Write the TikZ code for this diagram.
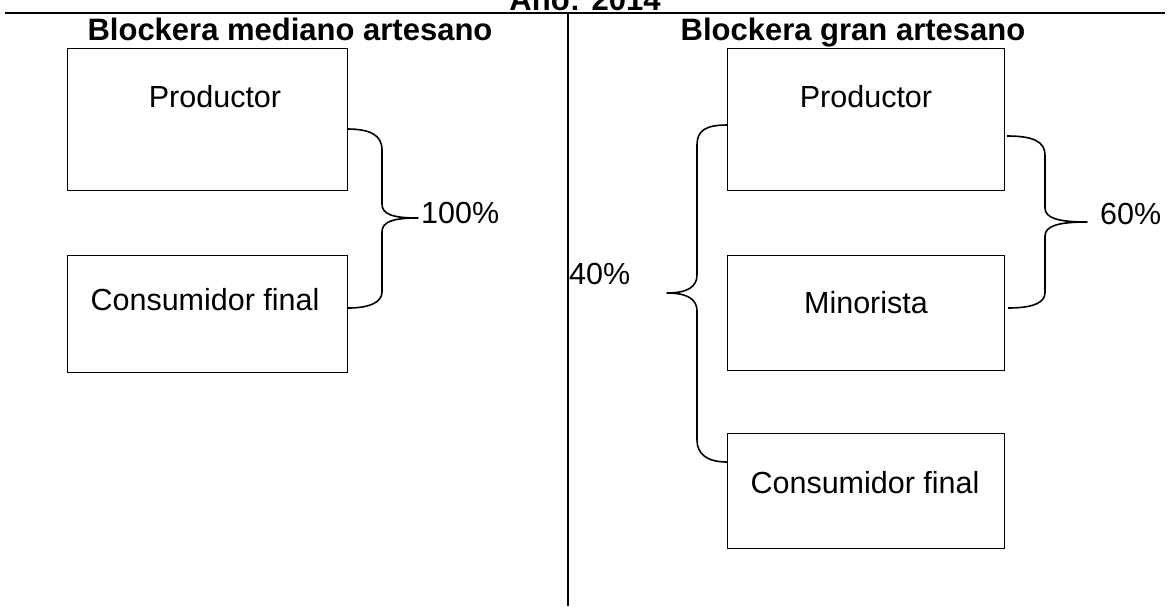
\documentclass[tikz,border=0pt]{standalone}
\usepackage{fontspec}
\setmainfont{Liberation Sans}
\begin{document}
\begin{tikzpicture}[x=1pt,y=-1pt,
  boxnode/.style={draw,line width=1.3pt,anchor=north west,inner sep=0pt},
  txt/.style={font=\fontsize{30.5}{36}\selectfont,inner sep=0pt},
  head/.style={font=\fontsize{31}{36}\selectfont\bfseries,inner sep=0pt,anchor=base},
  brace/.style={line width=1.6pt,line join=round}]
\useasboundingbox (0,0) rectangle (1169,606);
% title (cut off at top, as in the reference)
\node[head] (title) at (585,10) {Año: 2014};
\coordinate (hl) at (5,13);
\coordinate (hr) at (1165,13);
\draw[line width=2pt] (hl) -- (hr);
\coordinate (vt) at (568,13);
\coordinate (vb) at (568,606);
\draw[line width=1.1pt] (vt) -- (vb);
% headings
\node[head] (h1) at (290,40) {Blockera mediano artesano};
\node[head] (h2) at (853,40) {Blockera gran artesano};
% left boxes
\node[boxnode,minimum width=280pt,minimum height=142pt] (p1) at (67,48) {};
\node[txt] (p1t) at (215,97) {Productor};
\node[boxnode,minimum width=280pt,minimum height=117pt] (c1) at (67,255) {};
\node[txt] (c1t) at (205,300) {Consumidor final};
% right boxes
\node[boxnode,minimum width=277pt,minimum height=142pt] (p2) at (727,48) {};
\node[txt] (p2t) at (866,97) {Productor};
\node[boxnode,minimum width=277pt,minimum height=115pt] (m2) at (727,255) {};
\node[txt] (m2t) at (866,303) {Minorista};
\node[boxnode,minimum width=277pt,minimum height=115pt] (c2) at (727,433) {};
\node[txt] (c2t) at (865,483) {Consumidor final};
% brace 100%
\coordinate (b1a) at (347,129);
\coordinate (b1t) at (418,218);
\coordinate (b1b) at (348,308);
\draw[brace] (b1a) .. controls (370,129) and (382,135) .. (382,150)
  -- (382,204) .. controls (382,214) and (392,218) .. (b1t)
  .. controls (392,218) and (382,222) .. (382,232)
  -- (382,292) .. controls (382,302) and (370,308) .. (b1b);
\node[txt,anchor=west] (l100) at (421,213) {100\%};
% brace 60%
\coordinate (b2a) at (1007,136);
\coordinate (b2t) at (1087,222);
\coordinate (b2b) at (1008,308);
\draw[brace] (b2a) .. controls (1032,136) and (1045,141) .. (1045,155)
  -- (1045,208) .. controls (1045,218) and (1058,222) .. (b2t)
  .. controls (1058,222) and (1045,226) .. (1045,236)
  -- (1045,293) .. controls (1045,303) and (1032,308) .. (b2b);
\node[txt,anchor=west] (l60) at (1100,214) {60\%};
% brace 40%
\coordinate (b3a) at (727,125);
\coordinate (b3t) at (667,293);
\coordinate (b3b) at (727,462);
\draw[brace] (b3a) .. controls (705,125) and (697,131) .. (697,145)
  -- (697,275) .. controls (697,287) and (687,293) .. (b3t)
  .. controls (687,293) and (697,299) .. (697,311)
  -- (697,440) .. controls (697,454) and (707,462) .. (b3b);
\node[txt,anchor=west] (l40) at (569,274) {40\%};
\end{tikzpicture}
\end{document}
